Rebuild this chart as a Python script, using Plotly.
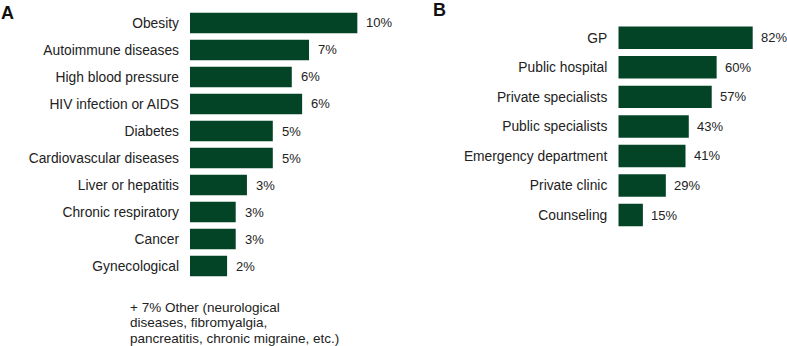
import plotly.graph_objects as go

W, H = 787, 346

# Panel A
cond_labels = ["Obesity", "Autoimmune diseases", "High blood pressure", "HIV infection or AIDS",
               "Diabetes", "Cardiovascular diseases", "Liver or hepatitis", "Chronic respiratory",
               "Cancer", "Gynecological"]
cond_values = [9.7, 6.9, 5.9, 6.5, 4.8, 4.8, 3.3, 2.65, 2.65, 2.15]
cond_text = ["10%", "7%", "6%", "6%", "5%", "5%", "3%", "3%", "3%", "2%"]

# Panel B
care_labels = ["GP", "Public hospital", "Private specialists", "Public specialists",
               "Emergency department", "Private clinic", "Counseling"]
care_values = [82, 60, 57, 43, 41, 29, 15]
care_text = ["82%", "60%", "57%", "43%", "41%", "29%", "15%"]

footnote_lines = ["+ 7% Other (neurological", "diseases, fibromyalgia,",
                  "pancreatitis, chronic migraine, etc.)"]

GREEN = "#034426"
TXT = "#222222"
FONT = "Liberation Sans, Arial, sans-serif"

fig = go.Figure()
fig.add_trace(go.Bar(x=cond_values, y=cond_labels, orientation="h", marker=dict(color=GREEN, line=dict(width=0)),
                     xaxis="x", yaxis="y", hoverinfo="skip"))
fig.add_trace(go.Bar(x=care_values, y=care_labels, orientation="h", marker=dict(color=GREEN, line=dict(width=0)),
                     xaxis="x2", yaxis="y2", hoverinfo="skip"))

ann = []
for v, c, t in zip(cond_values, cond_labels, cond_text):
    ann.append(dict(x=v, y=c, xref="x", yref="y", text=t, showarrow=False, xanchor="left",
                    xshift=8, borderpad=0, font=dict(size=13, color=TXT, family=FONT)))
for v, c, t in zip(care_values, care_labels, care_text):
    ann.append(dict(x=v, y=c, xref="x2", yref="y2", text=t, showarrow=False, xanchor="left",
                    xshift=7, borderpad=0, font=dict(size=13, color=TXT, family=FONT)))

for i, line in enumerate(footnote_lines):
    ann.append(dict(x=128 / W, y=1 - (307 + 15.8 * i) / H, xref="paper", yref="paper", text=line,
                    showarrow=False, xanchor="left", yanchor="middle", align="left",
                    font=dict(size=13.5, color=TXT, family=FONT)))
ann.append(dict(x=-1 / W, y=1 - 12.5 / H, xref="paper", yref="paper", text="<b>A</b>", showarrow=False,
                xanchor="left", yanchor="middle", font=dict(size=18, color="#111111", family=FONT)))
ann.append(dict(x=431 / W, y=1 - 10 / H, xref="paper", yref="paper", text="<b>B</b>", showarrow=False,
                xanchor="left", yanchor="middle", font=dict(size=18, color="#111111", family=FONT)))

axis_common = dict(showgrid=False, zeroline=False, showline=False, ticks="")

fig.update_layout(
    width=W, height=H,
    margin=dict(l=0, r=0, t=0, b=0),
    paper_bgcolor="white", plot_bgcolor="white",
    showlegend=False, bargap=0.24,
    font=dict(family=FONT, size=13.8, color=TXT),
    xaxis=dict(domain=[190 / W, 397 / W], range=[0, 12], showticklabels=False, anchor="y", **axis_common),
    yaxis=dict(domain=[1 - 279.5 / H, 1 - 9.5 / H], range=[9.5, -0.5], anchor="x",
               categoryorder="array", categoryarray=cond_labels,
               tickfont=dict(size=13.8, color=TXT), ticklabelstandoff=10, **axis_common),
    xaxis2=dict(domain=[618.3 / W, 782.2 / W], range=[0, 100], showticklabels=False, anchor="y2", **axis_common),
    yaxis2=dict(domain=[1 - 229.8 / H, 1 - 23 / H], range=[6.5, -0.5], anchor="x2",
                categoryorder="array", categoryarray=care_labels,
                tickfont=dict(size=13.8, color=TXT), ticklabelstandoff=10, **axis_common),
    annotations=ann,
)

fig.write_html("out.html", config={"displayModeBar": False},
               post_script="document.body.style.margin='0';document.body.style.overflow='hidden';")
